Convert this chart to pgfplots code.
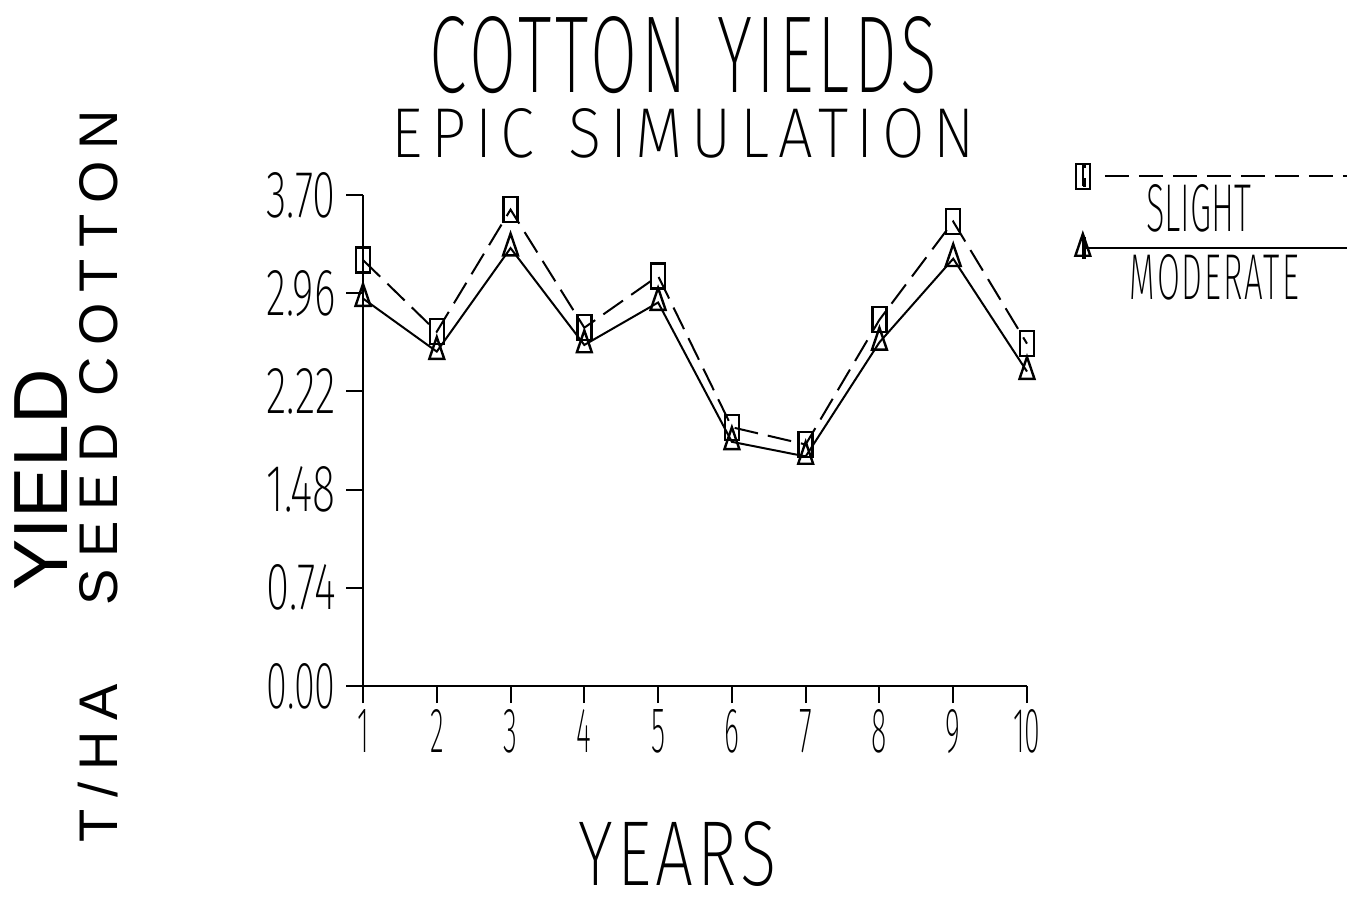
\documentclass[border=0pt]{standalone}
\usepackage{fontspec}
\usepackage{graphicx}
\usepackage{pgfplots}
\pgfplotsset{compat=1.18}
\IfFontExistsTF{Fira Sans ExtraLight}{\def\thinname{Fira Sans ExtraLight}}{%
  \IfFontExistsTF{DejaVu Sans ExtraLight}{\def\thinname{DejaVu Sans ExtraLight}}{%
    \def\thinname{Liberation Sans}}}
\newfontfamily\thin{\thinname}
\newfontfamily\thinB[LetterSpace=6]{\thinname}
\newfontfamily\thinC[LetterSpace=14]{\thinname}
\newfontfamily\thinD[LetterSpace=6]{\thinname}
\newfontfamily\sansf{Liberation Sans}
\newfontfamily\sansls[LetterSpace=21]{Liberation Sans}
\newcommand\ytl[1]{\resizebox{34.5pt}{22.5pt}{\thin\fontsize{40}{40}\selectfont #1}}
\newcommand\xtl[1]{\scalebox{0.45}[1]{\resizebox{!}{21.5pt}{\thin\fontsize{40}{40}\selectfont #1}}}
\newcommand\slightleg[1]{%
  \path (0pt,-5pt) rectangle (1pt,5pt);
  \draw[overlay,#1,mark=none] (11pt,0pt) -- (132pt,0pt);
  \draw[overlay,#1] plot coordinates {(0pt,0pt)};
  \node[overlay,inner sep=0pt] at (58pt,-16.75pt) {\resizebox{52.5pt}{23.5pt}{\thin\fontsize{40}{40}\selectfont SLIGHT}};}
\newcommand\modleg[1]{%
  \path (0pt,-5pt) rectangle (1pt,5pt);
  \draw[overlay,#1,mark=none] (0pt,0pt) -- (132pt,0pt);
  \draw[overlay,#1] plot coordinates {(0pt,0pt)};
  \node[overlay,inner sep=0pt] at (65.75pt,-15.25pt) {\resizebox{84.5pt}{22.5pt}{\thinB\fontsize{40}{40}\selectfont MODERATE}};}
\pgfplotsset{
  slightleg/.style={legend image code/.code={\slightleg{##1}}},
  modleg/.style={legend image code/.code={\modleg{##1}}},
}
\begin{document}
\begin{tikzpicture}
\useasboundingbox (0pt,0pt) rectangle (677.5pt,-448pt);
\begin{scope}[x=0.5pt,y=-0.5pt]
\node[anchor=base,inner sep=0pt] at (683.5,92) {\resizebox{254pt}{38pt}{\thinD\fontsize{40}{40}\selectfont COTTON\hspace{0.45em}YIELDS}};
\node[anchor=base,inner sep=0pt] at (683.5,157) {\resizebox{291.5pt}{24.5pt}{\thinC\fontsize{40}{40}\selectfont EPIC\hspace{0.55em}SIMULATION}};
\node[anchor=base,inner sep=0pt] at (677.5,885) {\resizebox{99pt}{32pt}{\thinD\fontsize{40}{40}\selectfont YEARS}};
\node[anchor=base,inner sep=0pt,rotate=90] at (68,480) {\sansf\fontsize{38.4}{40}\selectfont YIELD};
\node[anchor=base,inner sep=0pt,rotate=90] at (117,358) {\sansls\fontsize{27.2}{30}\selectfont SEED COTTON};
\node[anchor=base,inner sep=0pt,rotate=90] at (117,763) {\sansls\fontsize{27.2}{30}\selectfont T/HA};
\end{scope}
\begin{axis}[
  at={(181.5pt,-343pt)}, anchor=south west,
  scale only axis, width=332pt, height=245.5pt,
  xmin=1, xmax=10, ymin=0, ymax=3.7,
  axis lines=left, axis line style={-, line width=1pt},
  tick align=outside, major tick length=8.5pt,
  tick style={line width=1pt, black},
  xtick={1,2,3,4,5,6,7,8,9,10},
  xticklabels={\xtl{1},\xtl{2},\xtl{3},\xtl{4},\xtl{5},\xtl{6},\xtl{7},\xtl{8},\xtl{9},\xtl{10}},
  ytick={0,0.74,1.48,2.22,2.96,3.70},
  yticklabels={\ytl{0.00},\ytl{0.74},\ytl{1.48},\ytl{2.22},\ytl{2.96},\ytl{3.70}},
  xticklabel style={inner sep=0pt, yshift=-3pt},
  yticklabel style={inner sep=0pt, xshift=-5pt},
  clip=false,
  legend style={at={(1.082,1.061)}, anchor=north west, draw=none, fill=none,
    inner sep=0pt, row sep=25pt, nodes={inner sep=0pt}, font=\tiny},
]
\addplot[black, line width=1pt, dash pattern=on 12pt off 5pt, mark=square,
  mark size=6.25pt, mark options={solid, xscale=0.56, line width=1.2pt}, slightleg]
  coordinates {(1,3.21)(2,2.67)(3,3.59)(4,2.70)(5,3.09)(6,1.95)(7,1.82)(8,2.76)(9,3.50)(10,2.58)};
\addlegendentry{}
\addplot[black, line width=1pt, mark=triangle,
  mark size=7.3pt, mark options={solid, xscale=0.59, line width=1.2pt}, modleg]
  coordinates {(1,2.92)(2,2.52)(3,3.30)(4,2.57)(5,2.89)(6,1.84)(7,1.73)(8,2.59)(9,3.22)(10,2.37)};
\addlegendentry{}
\end{axis}
\end{tikzpicture}
\end{document}
